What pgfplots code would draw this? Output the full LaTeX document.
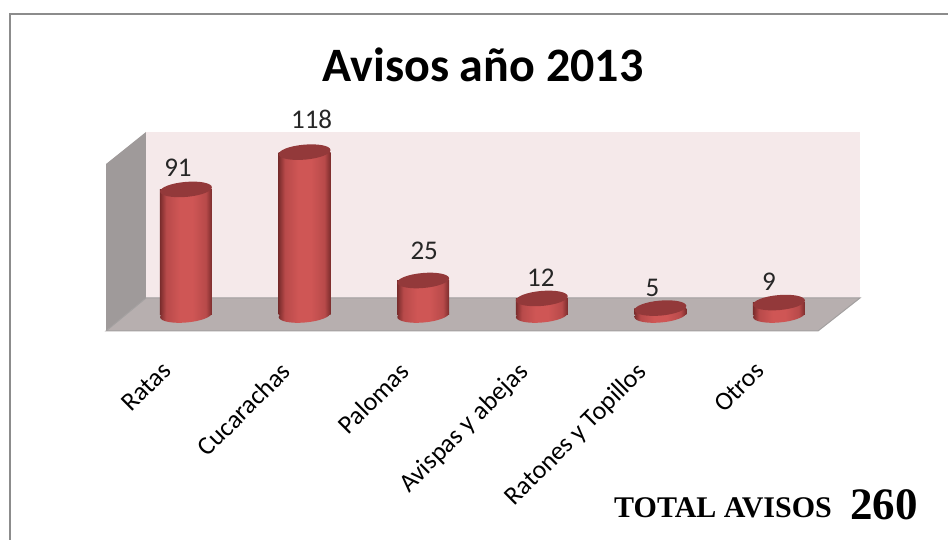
\documentclass[border=0pt]{standalone}
\usepackage{fontspec}
\usepackage{pgfplots}
\usepackage{pgfplotstable}
\pgfplotsset{compat=1.18}
\setmainfont{Carlito}
\newfontfamily\timesf{Liberation Serif}

\definecolor{wallc}{HTML}{F5E9EA}
\definecolor{floorc}{HTML}{B7AFAF}
\definecolor{edgec}{HTML}{A3A0A0}
\definecolor{sidec}{HTML}{9F9A9A}
\definecolor{capc}{HTML}{93393A}
\definecolor{cyldark}{HTML}{7A2C2C}
\definecolor{cylmid}{HTML}{B84A4A}
\definecolor{cyllight}{HTML}{CF5655}

\pgfdeclarehorizontalshading{cyl}{100bp}{
  color(0bp)=(cyldark);
  color(25bp)=(cyldark);
  color(31bp)=(cylmid);
  color(44bp)=(cyllight);
  color(56bp)=(cyllight);
  color(69bp)=(cylmid);
  color(75bp)=(cyldark);
  color(100bp)=(cyldark)}

\pgfdeclareplotmark{botcap}{%
  \pgftransformrotate{5}%
  \pgfpathellipse{\pgfpointorigin}{\pgfpoint{26pt}{0pt}}{\pgfpoint{0pt}{7.5pt}}%
  \pgfshadepath{cyl}{0}%
  \pgfusepath{discard}}
\pgfdeclareplotmark{topcap}{%
  \pgftransformrotate{5}%
  \pgfsetfillcolor{capc}%
  \pgfpathellipse{\pgfpointorigin}{\pgfpoint{26pt}{0pt}}{\pgfpoint{0pt}{7.5pt}}%
  \pgfusepath{fill}}

\pgfplotstableread{
x y dx dy
0 91 -8 22
1 118 7 33
2 25 1 30
3 12 -1 21
4 5 -8 20
5 9 -10 21
}\avisos

\begin{document}
\begin{tikzpicture}[x=1pt,y=1pt]
\useasboundingbox (0,0) rectangle (948,540);
\draw[color=gray!90,line width=2pt] (9.5,0) -- (9.5,525.5) -- (948,525.5);
\begin{axis}[
  at={(106pt,209pt)}, anchor=south west,
  scale only axis, width=712pt, height=199pt,
  xmin=-0.6745, xmax=5.329,
  ymin=-11.594, ymax=132.6,
  clip=false,
  axis line style={draw=none},
  tick style={draw=none},
  ytick=\empty,
  xtick={0,1,2,3,4,5},
  xticklabels={Ratas,Cucarachas,Palomas,Avispas y abejas,Ratones y Topillos,Otros},
  x tick label style={rotate=45,anchor=north east,font=\fontsize{26}{28}\selectfont,
    xshift=-38.6pt,yshift=-2.9pt,inner sep=0pt},
  title={\textbf{Avisos año 2013}},
  title style={at={(axis description cs:0.5295,1.307)},anchor=center,
    font=\fontsize{48}{50}\selectfont,inner sep=0pt},
  /pgf/number format/assume math mode=true,
]
% back wall, side wall and floor
\addplot[fill=wallc,draw=none] coordinates {(-0.3373,12.32) (5.683,12.32) (5.683,132.6) (-0.3373,132.6)} -- cycle;
\addplot[fill=sidec,draw=none] coordinates {(-0.6745,-11.594) (-0.3373,12.32) (-0.3373,132.6) (-0.6745,109.4)} -- cycle;
\addplot[fill=floorc,draw=edgec,line width=1pt] coordinates {(-0.3373,12.32) (5.683,12.32) (5.329,-11.594) (-0.6745,-11.594)} -- cycle;
% cylinders, one plot per bar so that each gets its own shading
\pgfplotsinvokeforeach{0,...,5}{
  \addplot[ybar,bar width=52pt,bar shift=0pt,draw=none,shade,shading=cyl,
    restrict x to domain=#1:#1] table[x=x,y=y] {\avisos};
}
\addplot[only marks,mark=botcap] table[x=x,y expr=0] {\avisos};
\addplot[only marks,mark=topcap,
  visualization depends on={\thisrow{dx}\as\dx},
  visualization depends on={\thisrow{dy}\as\dy},
  nodes near coords,
  every node near coord/.append style={anchor=center,inner sep=0pt,xshift=\dx pt,yshift=\dy pt,
    font=\fontsize{27}{29}\selectfont,color=black!85},
] table[x=x,y=y] {\avisos};
\end{axis}
\node[anchor=west,inner sep=0pt,font=\timesf\bfseries\fontsize{30}{32}\selectfont] at (614,32) {TOTAL AVISOS};
\node[anchor=west,inner sep=0pt,font=\timesf\bfseries\fontsize{45}{47}\selectfont] at (850,35) {260};
\end{tikzpicture}
\end{document}
